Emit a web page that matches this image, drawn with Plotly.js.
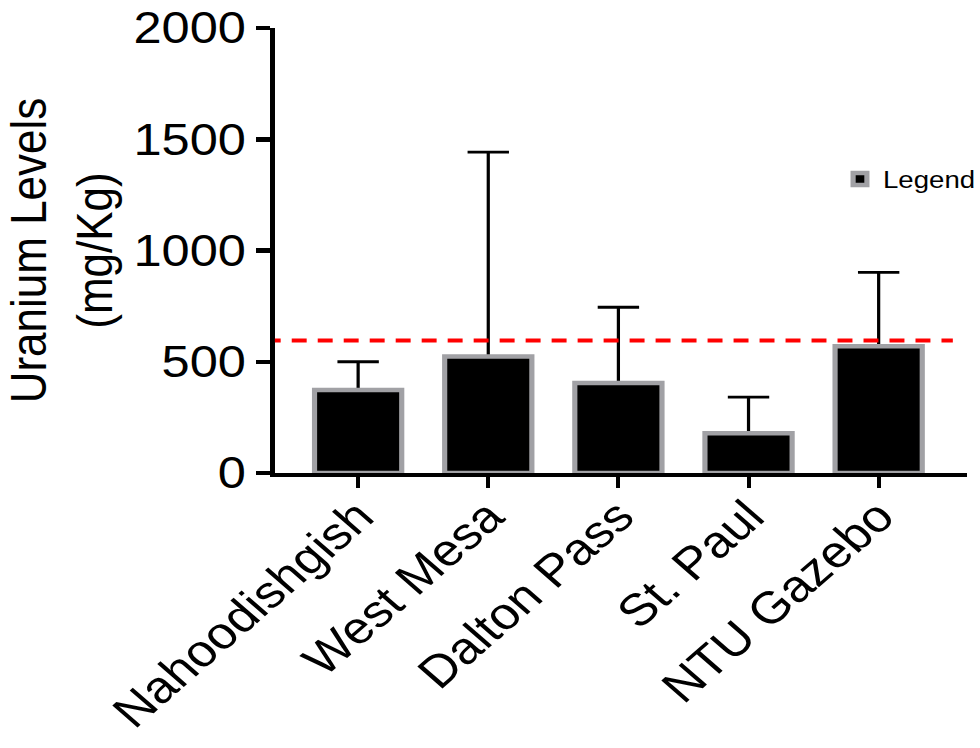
<!DOCTYPE html>
<html>
<head>
<meta charset="utf-8">
<script src="https://cdn.plot.ly/plotly-3.0.1.min.js"></script>
<style>
  html, body { margin: 0; padding: 0; background: #fff; overflow: hidden; width: 980px; height: 748px; }
  #chart { width: 870px; height: 748px; transform: scaleX(1.15); transform-origin: 0 0; }
</style>
</head>
<body>
<div id="chart"></div>
<script>
// ---- data ----
const categories = ['Nahoodishgish', 'West Mesa', 'Dalton Pass', 'St. Paul', 'NTU Gazebo'];
const meanValues = [373, 524, 404, 179, 570];
const errorPlus  = [127, 918, 341, 162, 332];
const errorMinus = [0, 0, 0, 0, 0];
const threshold  = 595;
const yTickVals  = [0, 500, 1000, 1500, 2000];
const yTickText  = ['0', '500', '1000', '1500', '2000'];
const seriesName = 'Legend';
const yTitle     = 'Uranium Levels<br>(mg/Kg)';

const FONT = 'Liberation Sans, Arial, sans-serif';

// error bars drawn in a trace beneath the visible bars, so the lower cap is hidden
const errTrace = {
  type: 'bar',
  x: categories,
  y: meanValues,
  width: 0.67,
  marker: { color: 'rgba(0,0,0,0)', line: { width: 0 } },
  error_y: {
    type: 'data', symmetric: false,
    array: errorPlus, arrayminus: errorMinus,
    color: '#000', thickness: 2.8, width: 18
  },
  showlegend: false,
  hoverinfo: 'skip'
};

const barTrace = {
  type: 'bar',
  name: seriesName,
  x: categories,
  y: meanValues,
  width: 0.67,
  marker: { color: '#000000', line: { color: '#a1a1a5', width: 4.5 } }
};

const layout = {
  width: 870, height: 748,
  margin: { l: 239, r: 29, t: 28, b: 275, pad: 0 },
  paper_bgcolor: '#fff', plot_bgcolor: '#fff',
  font: { family: FONT, color: '#000' },
  barmode: 'overlay',
  showlegend: true,
  legend: {
    x: 0.812, xanchor: 'left', y: 0.66, yanchor: 'middle',
    font: { family: FONT, size: 24, color: '#000' },
    bgcolor: 'rgba(0,0,0,0)'
  },
  xaxis: {
    type: 'category',
    range: [-0.64, 4.68],
    showline: true, linecolor: '#000', linewidth: 4,
    ticks: 'outside', ticklen: 11, tickwidth: 3.5, tickcolor: '#000',
    tickangle: -45,
    ticklabelstandoff: -16,
    tickfont: { family: FONT, size: 45, color: '#000' },
    showgrid: false, zeroline: false, fixedrange: true
  },
  yaxis: {
    range: [0, 2000],
    tickvals: yTickVals, ticktext: yTickText,
    showline: true, linecolor: '#000', linewidth: 4.3,
    ticks: 'outside', ticklen: 12, tickwidth: 4.5, tickcolor: '#000',
    tickfont: { family: FONT, size: 44, color: '#000' },
    showgrid: false, zeroline: false, fixedrange: true,
    title: { text: yTitle, font: { family: FONT, size: 44, color: '#000' }, standoff: 14 }
  },
  shapes: [{
    type: 'line', xref: 'x', yref: 'y',
    x0: -0.71, x1: 4.57, y0: threshold, y1: threshold,
    line: { color: '#ff0000', width: 4, dash: '13px,9.6px' },
    layer: 'above'
  }]
};

Plotly.newPlot('chart', [errTrace, barTrace], layout, { staticPlot: true, displayModeBar: false });
</script>
</body>
</html>
